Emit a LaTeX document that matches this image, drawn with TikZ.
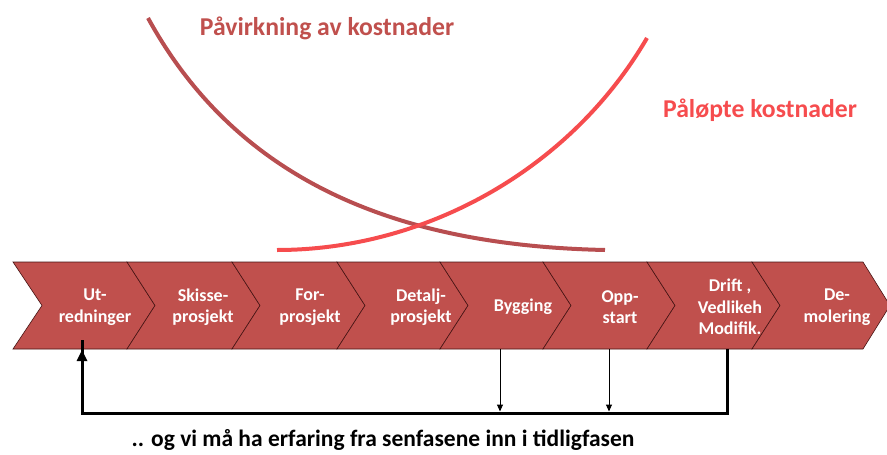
\documentclass[tikz,border=0pt]{standalone}
\usepackage{fontspec}
\setmainfont{Carlito}
\usetikzlibrary{arrows.meta}
\definecolor{chev}{RGB}{192,80,77}
\definecolor{chevline}{RGB}{70,20,20}
\definecolor{darkcurve}{RGB}{184,78,80}
\definecolor{lightcurve}{RGB}{246,76,78}
\definecolor{labeldark}{RGB}{192,80,77}
\tikzset{
  chevbox/.style={fill=chev,draw=chevline,line width=0.6pt,line join=miter},
  chevtext/.style={text=white,align=center,font=\bfseries\fontsize{18}{21.5}\selectfont,inner sep=0pt},
  curveline/.style={line width=4pt},
  biglabel/.style={font=\bfseries\fontsize{25.7}{30}\selectfont,inner sep=0pt},
  thickarrow/.style={line width=3pt,line join=miter},
  thinarrow/.style={line width=1pt,-{Triangle[length=7pt,width=6pt]}}
}
\begin{document}
\begin{tikzpicture}[x=1pt,y=-1pt]
\useasboundingbox (0,0) rectangle (887,455);
\clip (0,0) rectangle (887,455);
% chevrons
\def\ytop{262}\def\ybot{349}\def\ymid{305.5}
\draw[chevbox] (13,\ytop) -- (127,\ytop) -- (155,\ymid) -- (127,\ybot) -- (13,\ybot) -- (42,\ymid) -- cycle;
\foreach \a/\b in {127/232,232/337,337/440,440/543,543/647,647/752}{
  \draw[chevbox] (\a,\ytop) -- (\b,\ytop) -- ({\b+28},\ymid) -- (\b,\ybot) -- (\a,\ybot) -- ({\a+28},\ymid) -- cycle;
}
\draw[chevbox] (752,\ytop) -- (863,\ytop) -- (890,\ymid) -- (863,\ybot) -- (752,\ybot) -- (780,\ymid) -- cycle;
% texts
\node[chevtext] (ut) at (95,307) {Ut-\\redninger};
\node[chevtext] (skisse) at (203,307) {Skisse-\\prosjekt};
\node[chevtext] (for) at (310,307) {For-\\prosjekt};
\node[chevtext] (detalj) at (421,307) {Detalj-\\prosjekt};
\node[chevtext] (bygging) at (523,307) {Bygging};
\node[chevtext] (opp) at (620,307) {Opp-\\start};
\node[chevtext] (drift) at (730,307) {Drift ,\\Vedlikeh\\Modifik.};
\node[chevtext] (de) at (837,307) {De-\\molering};
% curves
\draw[curveline,darkcurve] (148,18) .. controls (245,195) and (420,246) .. (605,250);
\draw[curveline,lightcurve] (277,250) .. controls (425,250) and (570,170) .. (647,38);
\node[biglabel,text=labeldark] (pav) at (327,28) {Påvirkning av kostnader};
\node[biglabel,text=lightcurve] (pal) at (760,110) {Påløpte kostnader};
% feedback arrows
\coordinate (utb) at (82,350);
\coordinate (driftb) at (727,349);
\coordinate (loopR) at (727,413);
\coordinate (loopL) at (82,413);
\coordinate (byggb) at (500,349);
\coordinate (oppb) at (609,349);
\coordinate (byggl) at (500,411.5);
\coordinate (oppl) at (609,411.5);
\draw[thickarrow] (driftb) -- (loopR) -- (loopL) -- ([yshift=10pt]utb);
\fill (utb) -- ++(-5.5,11) -- ++(11,0) -- cycle;
\draw[thinarrow] (byggb) -- (byggl);
\draw[thinarrow] (oppb) -- (oppl);
\node[font=\bfseries\fontsize{23.5}{28}\selectfont,inner sep=0pt] (note) at (383,440) {.. og vi må ha erfaring fra senfasene inn i tidligfasen};
\end{tikzpicture}
\end{document}
